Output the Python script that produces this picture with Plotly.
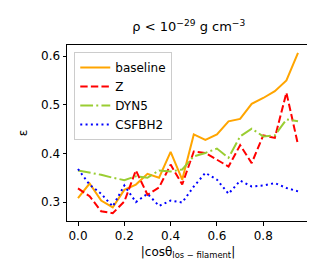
import plotly.graph_objects as go

x = [round(0.05 * i, 2) for i in range(20)]
baseline = [0.308, 0.338, 0.303, 0.289, 0.325, 0.336, 0.358, 0.350, 0.403, 0.346,
            0.439, 0.428, 0.439, 0.466, 0.471, 0.502, 0.514, 0.528, 0.550, 0.607]
z_vals = [0.328, 0.312, 0.281, 0.277, 0.301, 0.365, 0.315, 0.330, 0.377, 0.336,
          0.404, 0.401, 0.387, 0.373, 0.417, 0.380, 0.437, 0.432, 0.525, 0.418]
dyn5 = [0.365, 0.361, 0.356, 0.350, 0.345, 0.353, 0.350, 0.365, 0.363, 0.367,
        0.394, 0.401, 0.410, 0.391, 0.435, 0.451, 0.435, 0.437, 0.470, 0.466]
csfbh2 = [0.368, 0.336, 0.317, 0.291, 0.334, 0.300, 0.317, 0.292, 0.303, 0.299,
          0.332, 0.360, 0.346, 0.317, 0.344, 0.332, 0.334, 0.339, 0.329, 0.322]
x_ticks = [0.0, 0.2, 0.4, 0.6, 0.8]
y_ticks = [0.3, 0.4, 0.5, 0.6]

series = [
    ("baseline", baseline, "#FFA500", "solid"),
    ("Z", z_vals, "#FF0000", "7.4px,3.2px"),
    ("DYN5", dyn5, "#9ACD32", "12.8px,3.2px,2px,3.2px"),
    ("CSFBH2", csfbh2, "#0000FF", "2px,3.3px"),
]

fig = go.Figure()
for name, vals, color, dash in series:
    fig.add_trace(go.Scatter(x=x, y=vals, mode="lines", name=name,
                             line=dict(color=color, width=2, dash=dash)))

axis_common = dict(showgrid=False, zeroline=False, showline=True, linecolor="black",
                   linewidth=1, mirror=True, ticks="outside", ticklen=3.5,
                   tickcolor="black", tickfont=dict(size=12, color="black"))

fig.update_layout(
    width=315, height=270,
    margin=dict(l=59, r=14, t=37, b=57),
    plot_bgcolor="white", paper_bgcolor="white",
    font=dict(family="DejaVu Sans", size=12, color="black"),
    title=dict(text="ρ < 10<sup>−29</sup> g cm<sup>−3</sup>", x=0.574, xanchor="center",
               y=0.93, yanchor="middle", font=dict(size=13)),
    xaxis=dict(range=[-0.0475, 0.9975], tickvals=x_ticks, ticktext=["0.0", "0.2", "0.4", "0.6", "0.8"],
               title=dict(text="|cosθ<sub>los − filament</sub>|", standoff=5, font=dict(size=12)),
               **axis_common),
    yaxis=dict(range=[0.261, 0.623], tickvals=y_ticks, ticktext=["0.3", "0.4", "0.5", "0.6"],
               title=dict(text="ε", standoff=10, font=dict(size=12)), **axis_common),
    legend=dict(x=0.03, y=0.96, xanchor="left", yanchor="top", bgcolor="rgba(255,255,255,0.8)",
                bordercolor="#cccccc", borderwidth=1, font=dict(size=12),
                tracegroupgap=0, itemwidth=30),
    showlegend=True,
)

fig.write_html("out.html")
